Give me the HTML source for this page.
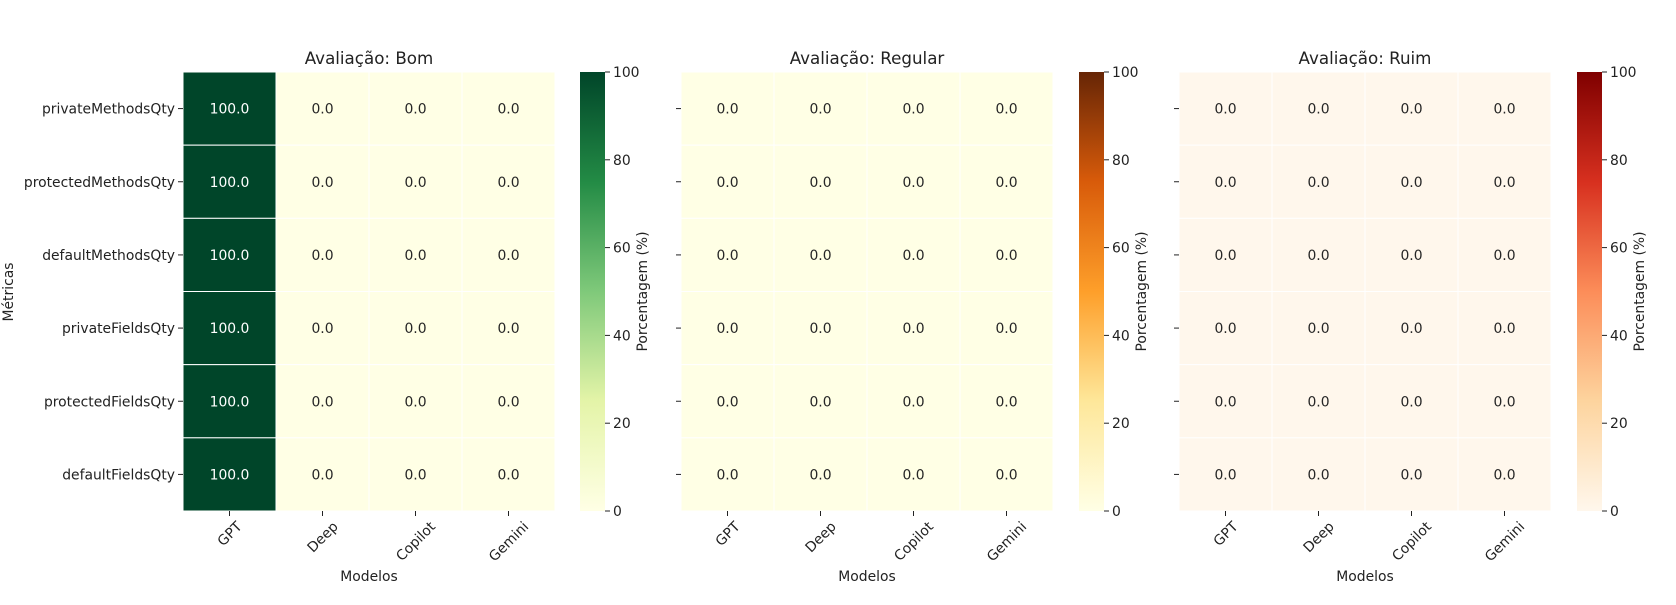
<!DOCTYPE html>
<html><head><meta charset="utf-8"><style>
body{margin:0;background:#fff;}
svg text{font-family:"DejaVu Sans","Liberation Sans",sans-serif;}
</style></head><body>
<svg id="c" width="1676" height="600" xmlns="http://www.w3.org/2000/svg">
<defs>
<linearGradient id="g0" x1="0" y1="1" x2="0" y2="0"><stop offset="0" stop-color="#ffffe5"/><stop offset="0.25" stop-color="#e4f4a8"/><stop offset="0.5" stop-color="#7fc97a"/><stop offset="0.75" stop-color="#238b45"/><stop offset="1" stop-color="#004529"/></linearGradient>
<linearGradient id="g1" x1="0" y1="1" x2="0" y2="0"><stop offset="0" stop-color="#ffffe5"/><stop offset="0.25" stop-color="#fee79a"/><stop offset="0.5" stop-color="#fe9f2a"/><stop offset="0.75" stop-color="#d85b0a"/><stop offset="1" stop-color="#662506"/></linearGradient>
<linearGradient id="g2" x1="0" y1="1" x2="0" y2="0"><stop offset="0" stop-color="#fff7ec"/><stop offset="0.25" stop-color="#fdd49e"/><stop offset="0.5" stop-color="#fc8d59"/><stop offset="0.75" stop-color="#d7301f"/><stop offset="1" stop-color="#7f0000"/></linearGradient>
</defs>
</svg>
<script>
const models=["GPT","Deep","Copilot","Gemini"];
const metrics=["privateMethodsQty","protectedMethodsQty","defaultMethodsQty","privateFieldsQty","protectedFieldsQty","defaultFieldsQty"];
const titles=["Avaliação: Bom","Avaliação: Regular","Avaliação: Ruim"];
const bomValues=[[100,0,0,0],[100,0,0,0],[100,0,0,0],[100,0,0,0],[100,0,0,0],[100,0,0,0]];
const regularValues=[[0,0,0,0],[0,0,0,0],[0,0,0,0],[0,0,0,0],[0,0,0,0],[0,0,0,0]];
const ruimValues=[[0,0,0,0],[0,0,0,0],[0,0,0,0],[0,0,0,0],[0,0,0,0],[0,0,0,0]];
const cbTicks=[0,20,40,60,80,100];
const allValues=[bomValues,regularValues,ruimValues];
const scales=[
 [[0,"#ffffe5"],[0.25,"#e4f4a8"],[0.5,"#7fc97a"],[0.75,"#238b45"],[1,"#004529"]],
 [[0,"#ffffe5"],[0.25,"#fee79a"],[0.5,"#fe9f2a"],[0.75,"#d85b0a"],[1,"#662506"]],
 [[0,"#fff7ec"],[0.25,"#fdd49e"],[0.5,"#fc8d59"],[0.75,"#d7301f"],[1,"#7f0000"]]];
const svg=document.getElementById('c');
const NS="http://www.w3.org/2000/svg";
const FS=13.9;
function mk(t,a,txt){const e=document.createElementNS(NS,t);for(const k in a)e.setAttribute(k,a[k]);if(txt!==undefined)e.textContent=txt;svg.appendChild(e);return e;}
function hex(h){return [1,3,5].map(i=>parseInt(h.substr(i,2),16));}
function col(s,v){const t=Math.max(0,Math.min(1,v/100));for(let i=1;i<s.length;i++){if(t<=s[i][0]){const a=s[i-1],b=s[i];const f=(t-a[0])/(b[0]-a[0]);const ca=hex(a[1]),cb=hex(b[1]);return "rgb("+ca.map((c,j)=>Math.round(c+(cb[j]-c)*f)).join(",")+")";}}return s[s.length-1][1];}
const X0=[183,681,1179],W=372,Y0=72,H=439,CBX=[580,1079,1577],CBW=25;
const cw=W/models.length,ch=H/metrics.length;
const yv=v=>Y0+H-v/100*H;
for(let p=0;p<3;p++){
 const x0=X0[p];
 let e=mk('text',{x:x0+W/2,y:64,'text-anchor':'middle','font-size':16.7,fill:'#222'},titles[p]);
 
 
 const vals=allValues[p];
 for(let r=0;r<metrics.length;r++){
  for(let c=0;c<models.length;c++){
   const v=vals[r][c];
   e=mk('rect',{x:x0+c*cw,y:Y0+r*ch,width:cw,height:ch,fill:col(scales[p],v),stroke:'#fff','stroke-width':1});
   
   
   e=mk('text',{x:x0+c*cw+cw/2,y:Y0+r*ch+ch/2+5,'text-anchor':'middle','font-size':FS,fill:v>50?'#fff':'#262626'},v.toFixed(1));
   
   
  }
  const ty=Y0+r*ch+ch/2;
  mk('line',{x1:x0-5,x2:x0,y1:ty,y2:ty,stroke:'#222'});
  if(p===0){e=mk('text',{x:x0-8,y:ty+5,'text-anchor':'end','font-size':FS,fill:'#222'},metrics[r]);
   
   }
 }
 for(let c=0;c<models.length;c++){
  const tx=x0+c*cw+cw/2;
  mk('line',{x1:tx,x2:tx,y1:Y0+H,y2:Y0+H+5,stroke:'#222'});
  e=mk('text',{x:tx,y:0,'text-anchor':'middle','font-size':FS,fill:'#222'},models[c]);
  const w=e.getComputedTextLength();
  const bh=(w+FS)*0.7071;
  const cy=Y0+H+8+bh/2;
  e.setAttribute('y',cy+FS*0.35);
  e.setAttribute('transform',`rotate(-45 ${tx} ${cy})`);
  
  
 }
 e=mk('text',{x:x0+W/2,y:581,'text-anchor':'middle','font-size':FS,fill:'#222'},'Modelos');
 
 
 const cx=CBX[p];
 e=mk('rect',{x:cx,y:Y0,width:CBW,height:H,fill:`url(#g${p})`});
 
 
 for(const t of cbTicks){
  const ty=yv(t);
  mk('line',{x1:cx+CBW,x2:cx+CBW+5,y1:ty,y2:ty,stroke:'#222'});
  e=mk('text',{x:cx+CBW+8,y:ty+5,'font-size':FS,fill:'#222'},String(t));
  
  
 }
 const lx=cx+CBW+42,ly=Y0+H/2;
 e=mk('text',{x:lx,y:ly,'text-anchor':'middle','font-size':FS,fill:'#222',transform:`rotate(-90 ${lx} ${ly})`},'Porcentagem (%)');
 
 
}
const e2=mk('text',{x:13,y:292,'text-anchor':'middle','font-size':FS,fill:'#222',transform:'rotate(-90 13 292)'},'Métricas');


</script>
</body></html>
